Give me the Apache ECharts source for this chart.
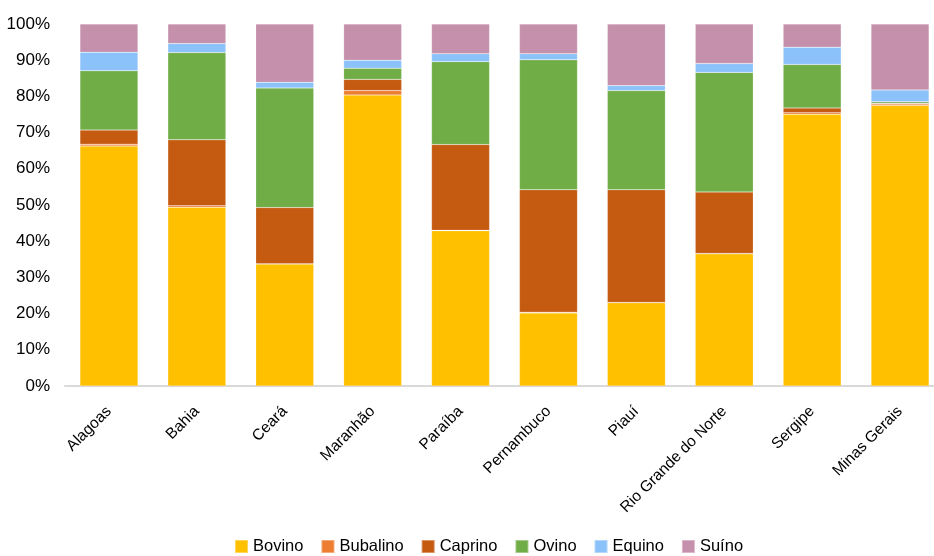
<!DOCTYPE html>
<html>
<head>
<meta charset="utf-8">
<script src="https://cdn.jsdelivr.net/npm/echarts@6/dist/echarts.min.js"></script>
<style>
  html, body { margin: 0; padding: 0; background: #fff; }
  #chart { width: 934px; height: 556px; }
</style>
</head>
<body>
<div id="chart"></div>
<script>
// Share of each herd type per state (%)
const estados = ['Alagoas', 'Bahia', 'Ceará', 'Maranhão', 'Paraíba', 'Pernambuco', 'Piauí', 'Rio Grande do Norte', 'Sergipe', 'Minas Gerais'];
const bovino   = [66.3, 49.4, 33.7, 80.4, 42.9, 20.2, 23.0, 36.5, 75.1, 77.5];
const bubalino = [0.5, 0.4, 0.1, 1.2, 0.1, 0.2, 0.1, 0.1, 0.4, 0.4];
const caprino  = [3.9, 18.2, 15.5, 3.1, 23.7, 33.8, 31.1, 17.0, 1.3, 0.2];
const ovino    = [16.4, 24.1, 33.0, 3.1, 22.9, 35.9, 27.4, 33.0, 12.0, 0.4];
const equino   = [5.1, 2.5, 1.6, 2.2, 2.2, 1.7, 1.4, 2.5, 4.8, 3.3];
const suino    = [7.8, 5.4, 16.1, 10.0, 8.2, 8.2, 17.0, 10.9, 6.4, 18.2];
const yTicks   = [0, 10, 20, 30, 40, 50, 60, 70, 80, 90, 100];

const seriesDefs = [
  { name: 'Bovino',   data: bovino,   color: '#FFC000' },
  { name: 'Bubalino', data: bubalino, color: '#ED7D31' },
  { name: 'Caprino',  data: caprino,  color: '#C55A11' },
  { name: 'Ovino',    data: ovino,    color: '#70AD47' },
  { name: 'Equino',   data: equino,   color: '#8CC2FA' },
  { name: 'Suíno',    data: suino,    color: '#C590AB' }
];

const font = '"Liberation Sans", Arial, sans-serif';

const chart = echarts.init(document.getElementById('chart'), null, { renderer: 'canvas' });
chart.setOption({
  animation: false,
  backgroundColor: '#ffffff',
  grid: { left: 65, top: 24, bottom: 170, width: 879, containLabel: false, outerBoundsMode: 'none' },
  legend: {
    top: 538,
    left: 234,
    padding: 0,
    itemWidth: 13,
    itemHeight: 13,
    itemGap: 17,
    icon: 'rect',
    textStyle: { fontFamily: font, fontSize: 16.5, color: '#000' },
    data: seriesDefs.map(s => s.name)
  },
  xAxis: {
    type: 'category',
    data: estados,
    axisLine: { show: true, lineStyle: { color: '#D9D9D9', width: 2 } },
    axisTick: { show: false },
    axisLabel: {
      rotate: 45,
      interval: 0,
      margin: 23,
      fontFamily: font,
      fontSize: 15.5,
      color: '#000'
    }
  },
  yAxis: {
    type: 'value',
    min: 0,
    max: 100,
    interval: 10,
    axisLine: { show: false },
    axisTick: { show: false },
    splitLine: { show: false },
    axisLabel: {
      margin: 15,
      fontFamily: font,
      fontSize: 17,
      color: '#000',
      formatter: v => (yTicks.includes(v) ? v + '%' : '')
    }
  },
  series: seriesDefs.map(s => ({
    name: s.name,
    type: 'bar',
    stack: 'total',
    barWidth: '66%',
    data: s.data,
    itemStyle: { color: s.color, borderColor: 'rgba(255,255,255,0.35)', borderWidth: 0.5 }
  }))
});
</script>
</body>
</html>
